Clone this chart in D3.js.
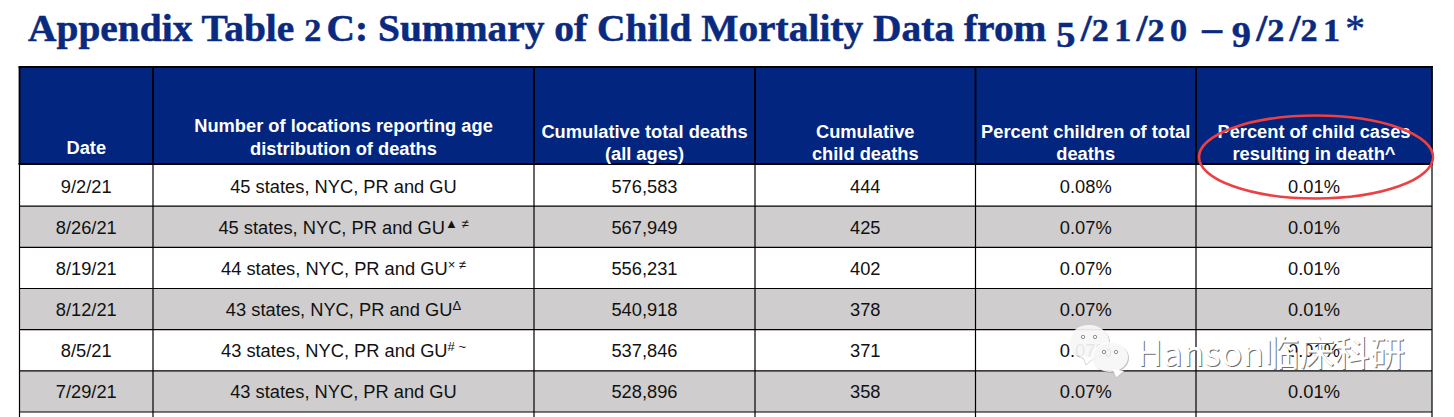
<!DOCTYPE html>
<html>
<head>
<meta charset="utf-8">
<script src="https://cdn.jsdelivr.net/npm/d3@7"></script>
<style>
html, body { margin: 0; padding: 0; background: #fff; overflow: hidden; }
svg { display: block; }
</style>
</head>
<body>
<div id="chart"></div>
<script>
// values
var dates = ["9/2/21", "8/26/21", "8/19/21", "8/12/21", "8/5/21", "7/29/21"];
var locations = ["45 states, NYC, PR and GU", "45 states, NYC, PR and GU", "44 states, NYC, PR and GU",
	"43 states, NYC, PR and GU", "43 states, NYC, PR and GU", "43 states, NYC, PR and GU"];
var locationMarks = ["", "\u25B2 \u2260", "\u00D7 \u2260", "\u0394", "# ~", ""];
var totalDeaths = ["576,583", "567,949", "556,231", "540,918", "537,846", "528,896"];
var childDeaths = ["444", "425", "402", "378", "371", "358"];
var percentOfTotal = ["0.08%", "0.07%", "0.07%", "0.07%", "0.07%", "0.07%"];
var percentOfCases = ["0.01%", "0.01%", "0.01%", "0.01%", "0.01%", "0.01%"];

var headers = [
	["Date"],
	["Number of locations reporting age", "distribution of deaths"],
	["Cumulative total deaths", "(all ages)"],
	["Cumulative", "child deaths"],
	["Percent children of total", "deaths"],
	["Percent of child cases", "resulting in death^"]
];

var title = "Appendix Table 2C: Summary of Child Mortality Data from 5/21/20 \u2013 9/2/21*";

var width = 1454, height = 417;
var navy = "#02257f", gray = "#cfcdce";
var sans = "'Liberation Sans', Arial, sans-serif";

var edges = [19.5, 153, 534, 755, 975.5, 1196, 1432];
var headTop = 67, headBottom = 164, rowsBottom = 412;

var svg = d3.select("#chart").append("svg")
	.attr("width", width)
	.attr("height", height);

var colIndex = d3.range(headers.length);

var x = d3.scaleOrdinal()
	.domain(colIndex)
	.range(colIndex.map(function(i) { return (edges[i] + edges[i + 1]) / 2; }));

var y = d3.scaleBand()
	.domain(dates)
	.range([headBottom + 1, rowsBottom]);

// title, digits shrunk and dropped to look like old style figures
var titleText = svg.append("text")
	.attr("x", 28)
	.attr("y", 41)
	.attr("font-family", "'Liberation Serif', serif")
	.attr("font-weight", "bold")
	.attr("font-size", 37)
	.attr("fill", "#0a2a80")
	.attr("stroke", "#0a2a80")
	.attr("stroke-width", 0.5)
	.attr("textLength", 1337)
	.attr("lengthAdjust", "spacingAndGlyphs");

titleText.selectAll("tspan")
	.data(title.match(/[0-9]|\*|[^0-9*]+/g))
	.enter()
	.append("tspan")
	.attr("font-size", function(d) {
		if (/[012]/.test(d)) return 32;
		if (/[59]/.test(d)) return 36;
		return null;
	})
	.attr("font-weight", function(d) { return d == "*" ? "normal" : null; })
	.attr("letter-spacing", function(d) { return /[0-9]/.test(d) ? 5 : null; })
	.attr("baseline-shift", function(d) { return /[59]/.test(d) ? -6 : null; })
	.text(function(d) { return d; });

// header block
svg.append("rect")
	.attr("x", edges[0])
	.attr("y", headTop)
	.attr("width", edges[6] - edges[0])
	.attr("height", headBottom - headTop)
	.attr("fill", navy);

// row stripes
svg.selectAll("rect.row")
	.data(dates)
	.enter()
	.append("rect")
	.attr("class", "row")
	.attr("x", edges[0])
	.attr("y", function(d) { return y(d); })
	.attr("width", edges[6] - edges[0])
	.attr("height", y.bandwidth())
	.attr("fill", function(d, i) { return i % 2 ? gray : "#fff"; });

// horizontal rules
svg.selectAll("line.rule")
	.data(dates)
	.enter()
	.append("line")
	.attr("class", "rule")
	.attr("x1", edges[0])
	.attr("x2", edges[6])
	.attr("y1", function(d) { return y(d) + y.bandwidth(); })
	.attr("y2", function(d) { return y(d) + y.bandwidth(); })
	.attr("stroke", "#000")
	.attr("stroke-width", 1.2);

// vertical rules, heavier through the header
svg.selectAll("line.col")
	.data(edges)
	.enter()
	.append("line")
	.attr("class", "col")
	.attr("x1", function(d) { return d; })
	.attr("x2", function(d) { return d; })
	.attr("y1", headBottom)
	.attr("y2", height)
	.attr("stroke", "#000")
	.attr("stroke-width", 1.2);

svg.selectAll("line.colHead")
	.data(edges)
	.enter()
	.append("line")
	.attr("class", "colHead")
	.attr("x1", function(d) { return d; })
	.attr("x2", function(d) { return d; })
	.attr("y1", headTop)
	.attr("y2", headBottom)
	.attr("stroke", "#000")
	.attr("stroke-width", 1.8);

[headTop, headBottom].forEach(function(yy) {
	svg.append("line")
		.attr("x1", edges[0] - 1)
		.attr("x2", edges[6] + 1)
		.attr("y1", yy)
		.attr("y2", yy)
		.attr("stroke", "#000")
		.attr("stroke-width", 2);
});

// header text
var headerBaselines = [[153.5], [132, 155], [138, 160], [138, 160], [138, 160], [138, 160]];
headers.forEach(function(lines, c) {
	svg.selectAll("text.h" + c)
		.data(lines)
		.enter()
		.append("text")
		.attr("class", "h" + c)
		.attr("x", x(c))
		.attr("y", function(d, i) { return headerBaselines[c][i]; })
		.attr("text-anchor", "middle")
		.attr("font-family", sans)
		.attr("font-weight", "bold")
		.attr("font-size", 18.3)
		.attr("fill", "#fff")
		.text(function(d) { return d; });
});

// body text
var columns = [dates, locations, totalDeaths, childDeaths, percentOfTotal, percentOfCases];
columns.forEach(function(col, c) {
	var t = svg.selectAll("text.c" + c)
		.data(col)
		.enter()
		.append("text")
		.attr("class", "c" + c)
		.attr("x", x(c))
		.attr("y", function(d, i) { return y(dates[i]) + y.bandwidth() / 2 + 7; })
		.attr("text-anchor", "middle")
		.attr("font-family", sans)
		.attr("font-size", 18.3)
		.attr("fill", "#111")
		.text(function(d) { return d; });
	if (c == 1) {
		t.append("tspan")
			.attr("dy", -6)
			.attr("font-size", 13)
			.text(function(d, i) { return locationMarks[i]; });
	}
});

// red hand drawn ellipse
svg.append("ellipse")
	.attr("cx", 1316)
	.attr("cy", 157)
	.attr("rx", 117)
	.attr("ry", 41.5)
	.attr("fill", "none")
	.attr("stroke", "#ee3f42")
	.attr("stroke-width", 2.6);

// watermark
var mark = svg.append("g").attr("class", "watermark");

function bubble(cx, cy, rx, ry, tailX) {
	// grey copy first so only the lower right edge shows
	mark.append("ellipse")
		.attr("cx", cx + 1).attr("cy", cy + 1).attr("rx", rx).attr("ry", ry)
		.attr("fill", "#8a8a8a").attr("fill-opacity", 0.5);
	mark.append("path")
		.attr("d", "M" + tailX + "," + (cy + ry - 4) + "l4,10l8,-7z")
		.attr("fill", "#fff").attr("stroke", "#aaa").attr("stroke-width", 0.5);
	mark.append("ellipse")
		.attr("cx", cx).attr("cy", cy).attr("rx", rx).attr("ry", ry)
		.attr("fill", "#fff").attr("fill-opacity", 0.86);
	[-6, 6].forEach(function(dx) {
		mark.append("circle")
			.attr("cx", cx + dx).attr("cy", cy - 5).attr("r", 1.7)
			.attr("fill", "none").attr("stroke", "#777").attr("stroke-width", 0.8);
	});
}
bubble(1089, 342, 20, 17, 1082);
bubble(1110, 357, 18, 15, 1112);

[{dx: 1, fill: "#6f6f6f"}, {dx: 0, fill: "#fff"}].forEach(function(layer) {
	mark.append("text")
		.attr("x", 1137 + layer.dx)
		.attr("y", 366 + layer.dx)
		.attr("font-family", "'Noto Sans CJK SC', 'Noto Sans', sans-serif")
		.attr("font-size", 35)
		.attr("fill", layer.fill)
		.attr("textLength", 268)
		.text("Hanson\u4E34\u5E8A\u79D1\u7814");
});
</script>
</body>
</html>
